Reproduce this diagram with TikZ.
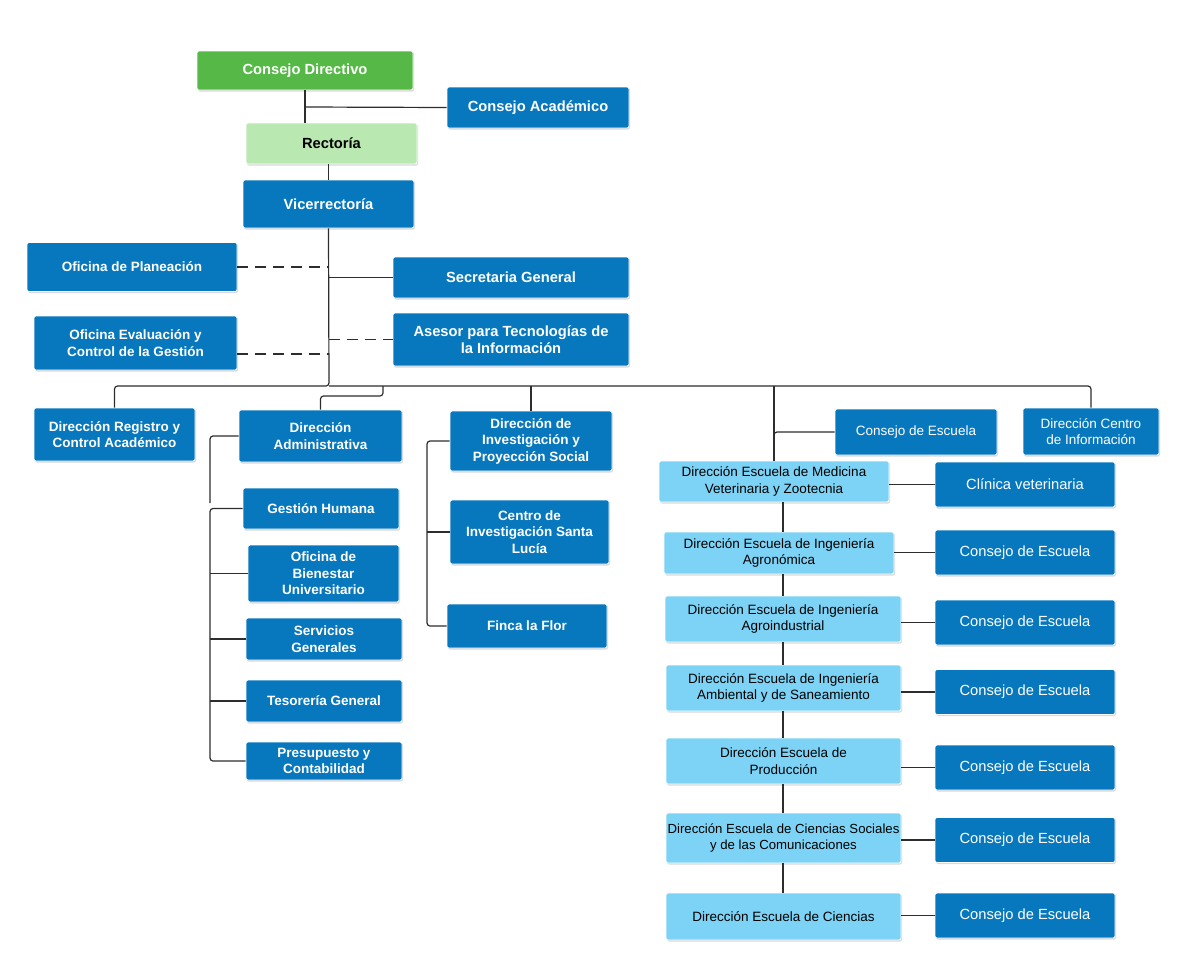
\documentclass[tikz,border=0pt]{standalone}
\usepackage{fontspec}
\setmainfont{Liberation Sans}
\usetikzlibrary{shadows}
\definecolor{dblue}{RGB}{8,120,190}
\definecolor{lblue}{RGB}{125,211,245}
\definecolor{cgreen}{RGB}{86,185,71}
\definecolor{lgreen}{RGB}{185,232,176}
\definecolor{lncol}{RGB}{45,45,45}
\tikzset{
  box/.style={rectangle, rounded corners=2pt, draw=white, line width=0.8pt, inner sep=2pt, align=center,
    drop shadow={shadow xshift=1pt, shadow yshift=-1.5pt, opacity=0.3}},
  dk/.style={box, fill=dblue, text=white, font=\fontsize{13.5}{16.5}\selectfont\bfseries},
  dkb/.style={box, fill=dblue, text=white, font=\fontsize{14.7}{17}\selectfont\bfseries},
  dkn/.style={box, fill=dblue, text=white, font=\fontsize{13.5}{16.5}\selectfont},
  ce/.style={box, fill=dblue, text=white, font=\fontsize{14.7}{17}\selectfont, minimum width=180pt, minimum height=45pt},
  lb/.style={box, fill=lblue, text=black, font=\fontsize{13.5}{16.5}\selectfont},
  conn/.style={draw=lncol, line width=1.2pt, rounded corners=3pt},
  dsh/.style={draw=lncol, line width=1.2pt, dash pattern=on 11pt off 7pt},
}
\begin{document}
\begin{tikzpicture}[x=1pt,y=-1pt]
\useasboundingbox (0,0) rectangle (1200,980);
% top
\node[dkb, fill=cgreen, minimum width=216pt, minimum height=39pt] (cd) at (305,70.5) {Consejo Directivo};
\node[dkb, minimum width=182pt, minimum height=41pt] (ca) at (538,107.5) {Consejo Académico};
\node[dkb, fill=lgreen, text=black, minimum width=171pt, minimum height=41pt] (rec) at (331.5,143.5) {Rectoría};
\node[dkb, minimum width=171pt, minimum height=48pt] (vr) at (328.5,204) {Vicerrectoría};
% staff
\node[dk, minimum width=210pt, minimum height=49pt] (op) at (132,267) {Oficina de Planeación};
\node[dkb, minimum width=236pt, minimum height=41pt] (sg) at (511,277.5) {Secretaria General};
\node[dk, minimum width=203pt, minimum height=54pt] (oe) at (135.5,343) {Oficina Evaluación y\\Control de la Gestión};
\node[dkb, minimum width=236pt, minimum height=53pt] (as) at (511,339.5) {Asesor para Tecnologías de\\la Información};
% second level
\node[dk, minimum width=161pt, minimum height=53pt] (drc) at (114.5,434.5) {Dirección Registro y\\Control Académico};
\node[dk, minimum width=163pt, minimum height=52pt] (da) at (320.5,436) {Dirección\\Administrativa};
\node[dk, minimum width=162pt, minimum height=60pt] (dip) at (531,441) {Dirección de\\Investigación y\\Proyección Social};
\node[dkn, minimum width=162pt, minimum height=46pt] (ce0) at (916,432) {Consejo de Escuela};
\node[dkn, minimum width=136pt, minimum height=47pt] (dci) at (1091,431.5) {Dirección Centro\\de Información};
% administrativa
\node[dk, minimum width=156pt, minimum height=41pt] (gh) at (321,508.5) {Gestión Humana};
\node[dk, minimum width=151pt, minimum height=57pt] (ob) at (323.5,573.5) {Oficina de\\Bienestar\\Universitario};
\node[dk, minimum width=156pt, minimum height=42pt] (sgen) at (324,639) {Servicios\\Generales};
\node[dk, minimum width=156pt, minimum height=42pt] (tg) at (324,701) {Tesorería General};
\node[dk, minimum width=156pt, minimum height=38pt] (pc) at (324,761) {Presupuesto y\\Contabilidad};
% investigacion
\node[dk, minimum width=159pt, minimum height=64pt] (ci) at (529.5,532) {Centro de\\Investigación Santa\\Lucía};
\node[dk, minimum width=160pt, minimum height=44pt] (ff) at (527,626) {Finca la Flor};
% schools
\node[lb, minimum width=230pt, minimum height=41pt] (m1) at (774,481.5) {Dirección Escuela de Medicina\\Veterinaria y Zootecnia};
\node[lb, minimum width=230pt, minimum height=42pt] (m2) at (779,553) {Dirección Escuela de Ingeniería\\Agronómica};
\node[lb, minimum width=236pt, minimum height=46pt] (m3) at (783,619) {Dirección Escuela de Ingeniería\\Agroindustrial};
\node[lb, minimum width=235pt, minimum height=46pt] (m4) at (783.5,688) {Dirección Escuela de Ingeniería\\Ambiental y de Saneamiento};
\node[lb, minimum width=235pt, minimum height=46pt] (m5) at (783.5,761) {Dirección Escuela de\\Producción};
\node[lb, inner xsep=0pt, font=\fontsize{13.2}{16.5}\selectfont, minimum width=235pt, minimum height=50pt] (m6) at (783.5,838) {Dirección Escuela de Ciencias Sociales\\y de las Comunicaciones};
\node[lb, minimum width=235pt, minimum height=47pt] (m7) at (783.5,916.5) {Dirección Escuela de Ciencias};
\node[ce] (c1) at (1025,484.5) {Clínica veterinaria};
\node[ce] (c2) at (1025,552.5) {Consejo de Escuela};
\node[ce] (c3) at (1025,622.5) {Consejo de Escuela};
\node[ce] (c4) at (1025,692) {Consejo de Escuela};
\node[ce] (c5) at (1025,767.5) {Consejo de Escuela};
\node[ce] (c6) at (1025,840) {Consejo de Escuela};
\node[ce] (c7) at (1025,915.5) {Consejo de Escuela};
% coordinates
\coordinate (j1) at (305,107);
\coordinate (t) at (329,386);
\coordinate (b1) at (383,386);
\coordinate (lx) at (210,0);
\coordinate (la) at (210,503);
\coordinate (ix) at (427,0);
\coordinate (sx) at (783,0);
% connectors
\draw[conn] (j1 |- cd.south) -- (j1 |- rec.north);
\draw[conn] (j1) -- (ca.west);
\draw[conn] (vr.north |- rec.south) -- (vr.north);
\draw[conn] (vr.south) -- (t) -| (drc.north);
\draw[conn] (t) -| (dci.north);
\draw[dsh] (op.east) -- (op.east -| t);
\draw[conn] (sg.west -| t) -- (sg.west);
\draw[dsh] ([yshift=-11pt]oe.east) -- ([yshift=-11pt]oe.east -| t);
\draw[dsh] (as.west -| t) -- (as.west);
\draw[conn] (b1) -- ++(0,10) -| (da.north);
\draw[conn] (dip.north |- t) -- (dip.north);
\draw[conn] (m1.north |- t) -- (m1.north);
\draw[conn] (ce0.west) -| (m1.north);
% administrativa
\draw[conn] (da.west) -| (la);
\draw[conn] (gh.west) -| (lx |- pc.west) -- (pc.west);
\draw[conn] (lx |- ob.west) -- (ob.west);
\draw[conn] (lx |- sgen.west) -- (sgen.west);
\draw[conn] (lx |- tg.west) -- (tg.west);
% investigacion
\draw[conn] (dip.west) -| (ix |- ff.west) -- (ff.west);
\draw[conn] (ix |- ci.west) -- (ci.west);
% school chain
\draw[conn] (sx |- m1.south) -- (sx |- m2.north);
\draw[conn] (sx |- m2.south) -- (sx |- m3.north);
\draw[conn] (sx |- m3.south) -- (sx |- m4.north);
\draw[conn] (sx |- m4.south) -- (sx |- m5.north);
\draw[conn] (sx |- m5.south) -- (sx |- m6.north);
\draw[conn] (sx |- m6.south) -- (sx |- m7.north);
\draw[conn] (c1.west -| m1.east) -- (c1.west);
\draw[conn] (c2.west -| m2.east) -- (c2.west);
\draw[conn] (c3.west -| m3.east) -- (c3.west);
\draw[conn] (c4.west -| m4.east) -- (c4.west);
\draw[conn] (c5.west -| m5.east) -- (c5.west);
\draw[conn] (c6.west -| m6.east) -- (c6.west);
\draw[conn] (c7.west -| m7.east) -- (c7.west);
\end{tikzpicture}
\end{document}
